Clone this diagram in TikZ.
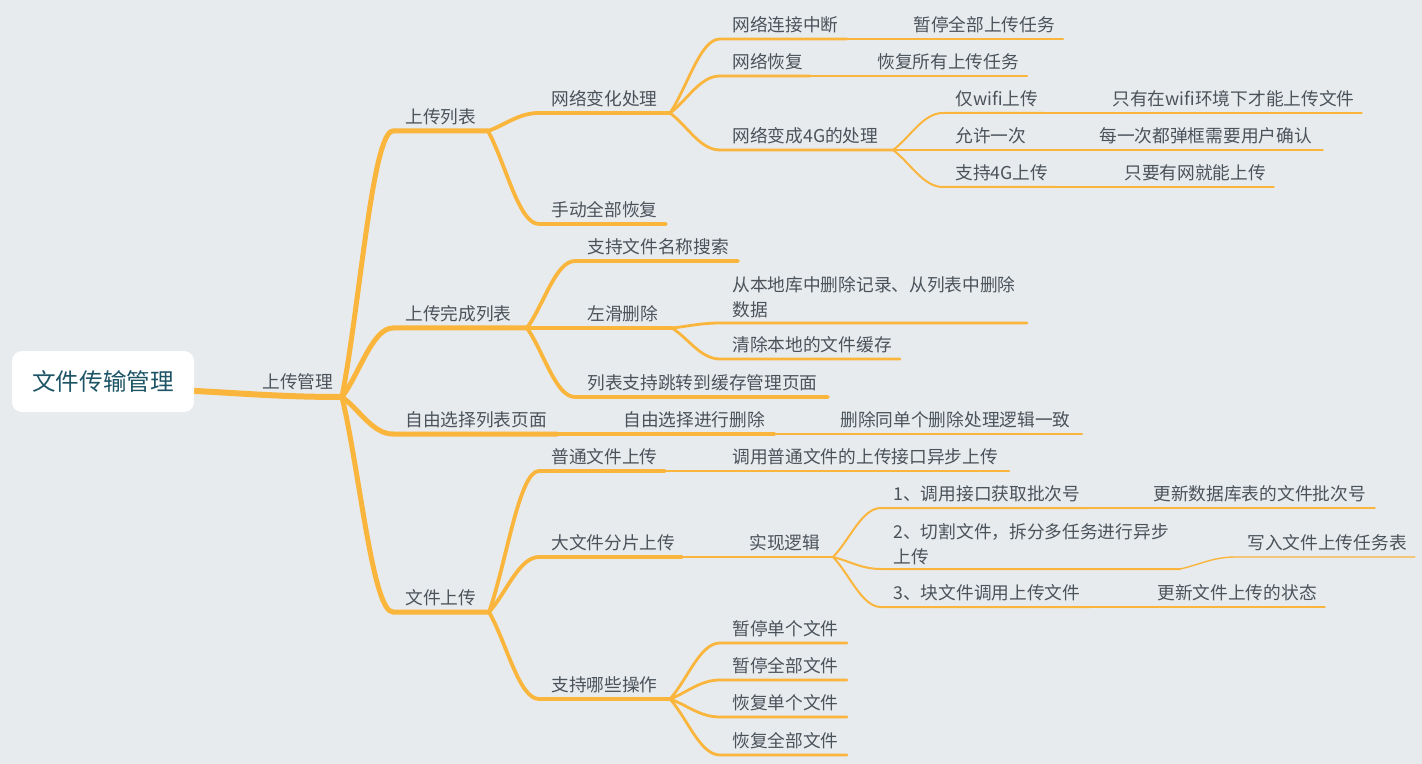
\documentclass[tikz,border=0pt]{standalone}
\usepackage{fontspec}
\usetikzlibrary{calc}
\newfontfamily\cjkfont{Noto Sans CJK SC}
\definecolor{MapBg}{HTML}{E8EBEE}
\definecolor{MapLine}{HTML}{F9B53C}
\definecolor{MapText}{HTML}{4A525A}
\definecolor{MapRoot}{HTML}{1E5566}
% topic: [text offset]{name}{x left}{x right}{y of underline}{text}
\newcommand{\topic}[6][14.5]{%
  \coordinate (#2-l) at (#3,#5);
  \coordinate (#2-r) at (#4,#5);
  \node[leaf,anchor=west] (#2) at ($(#2-l)+(12,-#1)$) {#6};}
% branch: {line style}{parent}{child}
\newcommand{\branch}[3]{%
  \draw[#1] (#2-r) .. controls ($(#2-r)!0.35!(#3-l)$) and ($(#2-r |- #3-l)!0.6!(#3-l)$) .. (#3-l) -- (#3-r);}

\begin{document}
\begin{tikzpicture}[x=0.5pt,y=-0.5pt,
    leaf/.style={inner sep=0pt,text=MapText,align=left,font=\cjkfont\fontsize{8.85}{12.5}\selectfont},
    rootbox/.style={fill=white,rounded corners=5pt,minimum width=91pt,minimum height=30.5pt,inner sep=0pt,
      text=MapRoot,font=\cjkfont\fontsize{11.8}{14}\selectfont},
    lv1/.style={draw=MapLine,line width=3pt,line cap=round},
    lv2/.style={draw=MapLine,line width=2.5pt,line cap=round},
    lv3/.style={draw=MapLine,line width=1.9pt,line cap=round},
    lv4/.style={draw=MapLine,line width=1.4pt,line cap=round},
    lv5/.style={draw=MapLine,line width=1pt,line cap=round},
    lv6/.style={draw=MapLine,line width=0.7pt,line cap=round}
  ]
  \fill[MapBg] (0,0) rectangle (1422,764);

  % root and main topic
  \coordinate (root-r) at (175,390);
  \coordinate (mgr-r) at (342,397);
  \draw[lv1] (root-r) .. controls ($(root-r)!0.35!(mgr-r)$) and ($(root-r |- mgr-r)!0.6!(mgr-r)$) .. (mgr-r);
  \node[rootbox] (root) at (103,381.5) {文件传输管理};
  \node[leaf,anchor=west] (mgr) at (262,382) {上传管理};

  % second level
  \topic{ul}{393}{488}{131}{上传列表}
  \topic{done}{393}{527}{328}{上传完成列表}
  \topic{pick}{393}{557}{434}{自由选择列表页面}
  \topic{up}{393}{489}{612}{文件上传}
  \branch{lv2}{mgr}{ul}
  \branch{lv2}{mgr}{done}
  \branch{lv2}{mgr}{pick}
  \branch{lv2}{mgr}{up}

  % third level
  \topic{net}{539}{670}{113}{网络变化处理}
  \topic{resume}{539}{666}{224}{手动全部恢复}
  \topic{search}{575}{738}{261}{支持文件名称搜索}
  \topic{swipe}{575}{672}{328}{左滑删除}
  \topic{jump}{575}{828}{397}{列表支持跳转到缓存管理页面}
  \topic{seldel}{611}{774}{434}{自由选择进行删除}
  \topic{normal}{539}{665}{471}{普通文件上传}
  \topic{big}{539}{682}{557}{大文件分片上传}
  \topic{ops}{539}{670}{699}{支持哪些操作}
  \branch{lv3}{ul}{net}
  \branch{lv3}{ul}{resume}
  \branch{lv3}{done}{search}
  \branch{lv3}{done}{swipe}
  \branch{lv3}{done}{jump}
  \branch{lv3}{pick}{seldel}
  \branch{lv3}{up}{normal}
  \branch{lv3}{up}{big}
  \branch{lv3}{up}{ops}

  % fourth level
  \topic{cut}{720}{847}{39}{网络连接中断}
  \topic{back}{720}{810}{76}{网络恢复}
  \topic{to4g}{720}{893}{150}{网络变成4G的处理}
  \topic[26]{dbrm}{720}{1027}{323}{从本地库中删除记录、从列表中删除\\数据}
  \topic{clear}{720}{900}{359}{清除本地的文件缓存}
  \topic{samedel}{828}{1082}{434}{删除同单个删除处理逻辑一致}
  \topic{callapi}{720}{1009}{471}{调用普通文件的上传接口异步上传}
  \topic{logic}{737}{833}{557}{实现逻辑}
  \topic{pone}{720}{847}{643}{暂停单个文件}
  \topic{pall}{720}{847}{680}{暂停全部文件}
  \topic{rone}{720}{847}{717}{恢复单个文件}
  \topic{rall}{720}{847}{755}{恢复全部文件}
  \branch{lv4}{net}{cut}
  \branch{lv4}{net}{back}
  \branch{lv4}{net}{to4g}
  \branch{lv4}{swipe}{dbrm}
  \branch{lv4}{swipe}{clear}
  \branch{lv4}{seldel}{samedel}
  \branch{lv4}{normal}{callapi}
  \branch{lv4}{big}{logic}
  \branch{lv4}{ops}{pone}
  \branch{lv4}{ops}{pall}
  \branch{lv4}{ops}{rone}
  \branch{lv4}{ops}{rall}

  % fifth level
  \topic{pausetask}{901}{1063}{39}{暂停全部上传任务}
  \topic{resumetask}{865}{1027}{76}{恢复所有上传任务}
  \topic{wifi}{943}{1044}{113}{仅wifi上传}
  \topic{once}{943}{1033}{150}{允许一次}
  \topic{allow}{943}{1057}{187}{支持4G上传}
  \topic{sone}{881}{1087}{508}{1、调用接口获取批次号}
  \topic[25]{stwo}{881}{1180}{569}{2、切割文件，拆分多任务进行异步\\上传}
  \topic{sthree}{881}{1090}{607}{3、块文件调用上传文件}
  \branch{lv5}{cut}{pausetask}
  \branch{lv5}{back}{resumetask}
  \branch{lv5}{to4g}{wifi}
  \branch{lv5}{to4g}{once}
  \branch{lv5}{to4g}{allow}
  \branch{lv5}{logic}{sone}
  \branch{lv5}{logic}{stwo}
  \branch{lv5}{logic}{sthree}

  % sixth level
  \topic{wifionly}{1100}{1362}{113}{只有在wifi环境下才能上传文件}
  \topic{confirm}{1087}{1323}{150}{每一次都弹框需要用户确认}
  \topic{anynet}{1112}{1274}{187}{只要有网就能上传}
  \topic{batch}{1141}{1375}{508}{更新数据库表的文件批次号}
  \topic{tasktable}{1235}{1415}{557}{写入文件上传任务表}
  \topic{state}{1145}{1325}{607}{更新文件上传的状态}
  \branch{lv6}{wifi}{wifionly}
  \branch{lv6}{once}{confirm}
  \branch{lv6}{allow}{anynet}
  \branch{lv6}{sone}{batch}
  \branch{lv6}{stwo}{tasktable}
  \branch{lv6}{sthree}{state}
\end{tikzpicture}
\end{document}
